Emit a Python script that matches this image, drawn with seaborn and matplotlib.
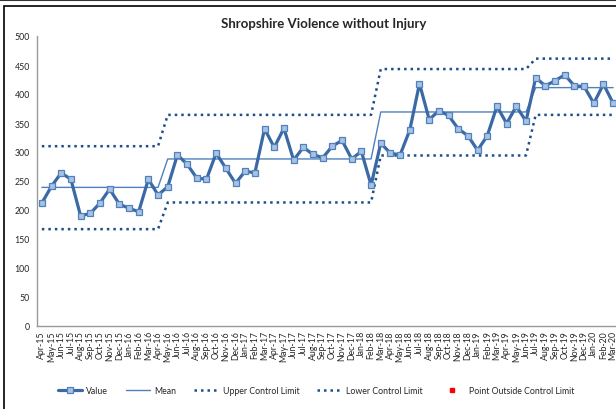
import matplotlib
matplotlib.use("Agg")
import matplotlib.pyplot as plt
import matplotlib.patches as mpatches
import seaborn as sns
import numpy as np
import pandas as pd

# monthly recorded crimes, Apr-15 .. Mar-20
months = pd.date_range("2015-04-01", "2020-03-01", freq="MS").strftime("%b-%y").tolist()
values = [212, 241, 264, 253, 190, 194, 212, 236, 210, 203, 197, 253,
          226, 240, 295, 279, 255, 253, 298, 272, 246, 267, 264, 340,
          308, 341, 286, 308, 296, 290, 310, 320, 288, 301, 243, 315,
          298, 295, 338, 418, 356, 371, 363, 340, 328, 303, 328, 379,
          349, 379, 353, 428, 414, 423, 433, 414, 413, 384, 417, 384]

# process periods (index of first month in each period)
period_starts = [0, 13, 35, 51]
period_means = [239, 288, 369, 411]
period_ucl = [310, 364, 443, 461]
period_lcl = [167, 213, 294, 364]

n = len(values)
lengths = np.diff(period_starts + [n])
df = pd.DataFrame({
    "idx": np.arange(n),
    "month": months,
    "value": values,
    "mean": np.repeat(period_means, lengths),
    "ucl": np.repeat(period_ucl, lengths),
    "lcl": np.repeat(period_lcl, lengths),
})
df["outside"] = df["value"].where((df["value"] > df["ucl"]) | (df["value"] < df["lcl"]))

sns.set_style("white")
plt.rcParams["font.family"] = ["Lato", "DejaVu Sans"]

fig = plt.figure(figsize=(6.16, 4.1), dpi=100)
ax = fig.add_axes([37 / 616, 83 / 410, 581 / 616, 290 / 410])

limit_col = "#1F4E8C"
sns.lineplot(data=df, x="idx", y="ucl", ax=ax, color=limit_col, lw=1.8,
             linestyle=(0, (1, 1.6)), label="Upper Control Limit")
sns.lineplot(data=df, x="idx", y="lcl", ax=ax, color=limit_col, lw=1.8,
             linestyle=(0, (1, 1.6)), label="Lower Control Limit")
sns.lineplot(data=df, x="idx", y="mean", ax=ax, color="#4F81BD", lw=1.0, label="Mean")
sns.lineplot(data=df, x="idx", y="value", ax=ax, color="#3A69A6", lw=2.3,
             marker="s", markersize=4.8, markerfacecolor="#A9C1E2",
             markeredgecolor="#4F81BD", markeredgewidth=0.9, label="Value")
ax.plot(df["idx"], df["outside"], "s", color="red", markersize=3,
        label="Point Outside Control Limit")

ax.set_xlim(-0.5, n - 0.5)
ax.set_ylim(0, 500)
ax.set_yticks(np.arange(0, 501, 50))
ax.set_xticks(df["idx"])
ax.set_xticklabels(months, rotation=90, fontsize=6.3)
ax.tick_params(axis="y", labelsize=6.3, length=3, color="#888888", direction="out", pad=2)
ax.tick_params(axis="x", length=0, pad=3)
ax.set_xlabel("")
ax.set_ylabel("")
for side in ["top", "right"]:
    ax.spines[side].set_visible(False)
for side in ["left", "bottom"]:
    ax.spines[side].set_color("#999999")
    ax.spines[side].set_linewidth(1.0)

fig.text(0.525, 1 - 24 / 410, "Shropshire Violence without Injury",
         ha="center", va="center", fontsize=9.5, fontweight="bold")

handles, labels = ax.get_legend_handles_labels()
order = ["Value", "Mean", "Upper Control Limit", "Lower Control Limit",
         "Point Outside Control Limit"]
hmap = dict(zip(labels, handles))
ax.legend([hmap[k] for k in order], order, loc="center",
          bbox_to_anchor=(316 / 616, 1 - 392 / 410), bbox_transform=fig.transFigure,
          ncol=5, frameon=False, fontsize=6.3, handlelength=2.8,
          columnspacing=2.0, handletextpad=0.5)

# chart frame
fig.add_artist(mpatches.Rectangle((4 / 616, -0.1), 1.2, 1 - 7 / 410 + 0.1,
                                  transform=fig.transFigure, fill=False,
                                  edgecolor="black", lw=1.2))
fig.add_artist(plt.Line2D([0, 1], [1 - 0.8 / 410] * 2, transform=fig.transFigure,
                          color="#333333", lw=1.5))

fig.savefig("out.png", dpi=100)
